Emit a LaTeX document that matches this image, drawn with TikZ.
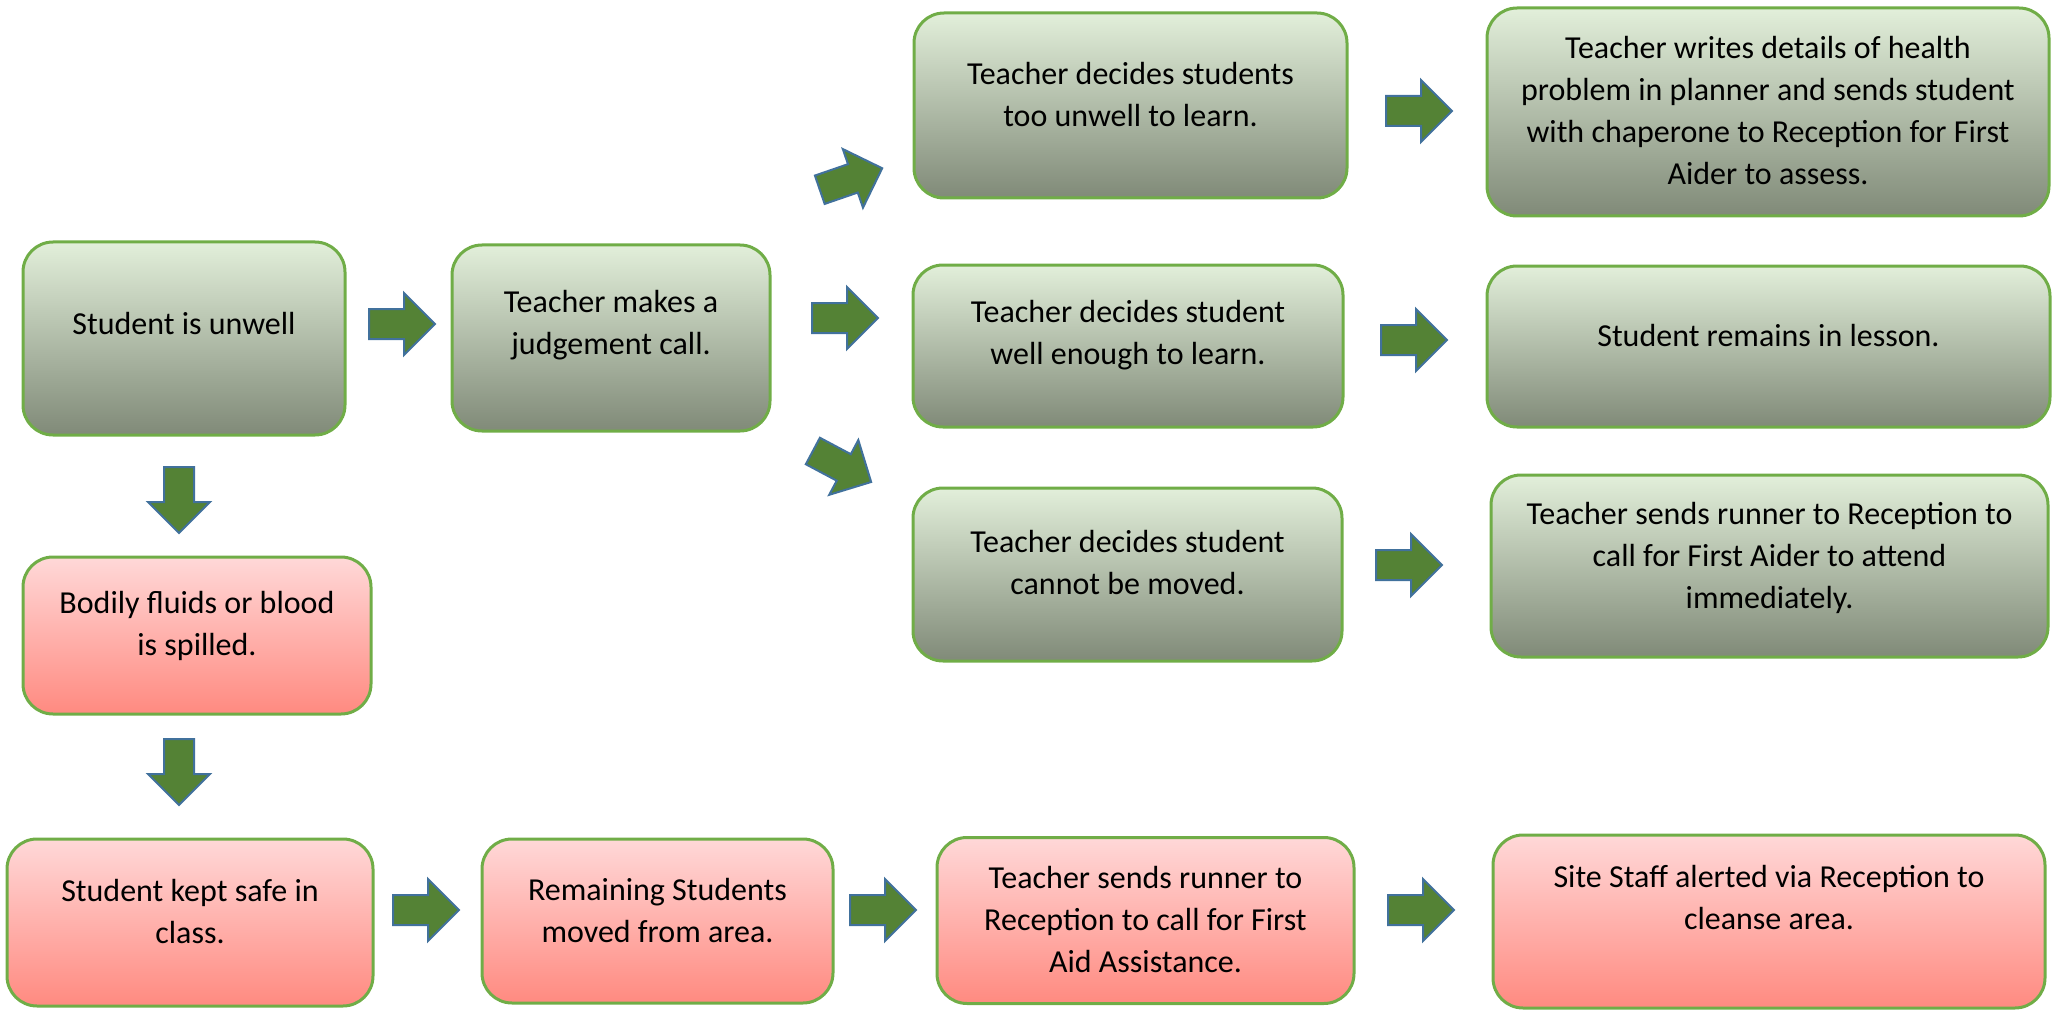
\documentclass[tikz,border=0pt]{standalone}
\usepackage{fontspec}
\setmainfont{Carlito}
\definecolor{gtop}{RGB}{226,239,218}
\definecolor{gbot}{RGB}{128,138,120}
\definecolor{rtop}{RGB}{255,216,216}
\definecolor{rbot}{RGB}{255,138,128}
\definecolor{bord}{RGB}{112,173,71}
\definecolor{afill}{RGB}{84,130,53}
\definecolor{aline}{RGB}{65,113,156}
\begin{document}
\begin{tikzpicture}[x=0.5pt,y=-0.5pt,
  box/.style={draw=bord,line width=1.5pt,rounded corners=15pt,inner sep=0pt},
  gbox/.style={box,top color=gtop,bottom color=gbot},
  rbox/.style={box,top color=rtop,bottom color=rbot},
  sz/.style 2 args={minimum width=#1*0.5pt,minimum height=#2*0.5pt},
  txt/.style={font=\fontsize{16}{21}\selectfont,align=center,text=black,inner sep=0pt},
  arrowstyle/.style={fill=afill,draw=aline,line width=1pt,line join=miter},
  barrow/.pic={\filldraw[arrowstyle] (-33,-15)--(2,-15)--(2,-31)--(33,0)--(2,31)--(2,15)--(-33,15)--cycle;}]
\useasboundingbox (0,0) rectangle (2053,1011);

% green boxes
\node[gbox,sz={322}{193},label={[txt,name=t1,yshift=7.5pt]center:{Student is unwell}}] (b1) at (184,338.5) {};
\node[gbox,sz={318}{186},label={[txt,name=t2,yshift=6.5pt]center:{Teacher makes a\\judgement call.}}] (b2) at (611,338) {};
\node[gbox,sz={433}{185},label={[txt,name=t3,yshift=5.5pt]center:{Teacher decides students\\too unwell to learn.}}] (c1) at (1130.5,105.5) {};
\node[gbox,sz={430}{162},label={[txt,name=t4,yshift=5.5pt]center:{Teacher decides student\\well enough to learn.}}] (c2) at (1128,346) {};
\node[gbox,sz={429}{173},label={[txt,name=t5,yshift=6pt]center:{Teacher decides student\\cannot be moved.}}] (c3) at (1127.5,574.5) {};
\node[gbox,sz={562}{208},label={[txt,name=t6,yshift=0.5pt]center:{Teacher writes details of health\\problem in planner and sends student\\with chaperone to Reception for First\\Aider to assess.}}] (d1) at (1768,112) {};
\node[gbox,sz={563}{161},label={[txt,name=t7,yshift=5.5pt]center:{Student remains in lesson.}}] (d2) at (1768.5,346.5) {};
\node[gbox,sz={557}{182},label={[txt,name=t8,yshift=4pt]center:{Teacher sends runner to Reception to\\call for First Aider to attend\\immediately.}}] (d3) at (1769.5,566) {};

% red boxes
\node[rbox,sz={348}{157},label={[txt,name=t9,yshift=5pt]center:{Bodily fluids or blood\\is spilled.}}] (r1) at (197,635.5) {};
\node[rbox,sz={366}{167},label={[txt,name=t10,yshift=5.5pt]center:{Student kept safe in\\class.}}] (r2) at (190,922.5) {};
\node[rbox,sz={351}{164},label={[txt,name=t11,yshift=5pt]center:{Remaining Students\\moved from area.}}] (r3) at (657.5,921) {};
\node[rbox,sz={417}{166},label={[txt,name=t12,yshift=0.5pt]center:{Teacher sends runner to\\Reception to call for First\\Aid Assistance.}}] (r4) at (1145.5,920.5) {};
\node[rbox,sz={552}{173},label={[txt,name=t13,yshift=12pt]center:{Site Staff alerted via Reception to\\cleanse area.}}] (r5) at (1769,921.5) {};

% block arrows
\pic at (402,324) {barrow};
\pic[rotate=19] at (851,179) {barrow};
\pic at (845,318) {barrow};
\pic[rotate=-28] at (842,466.5) {barrow};
\pic at (1419,111) {barrow};
\pic at (1414,340) {barrow};
\pic at (1409,565) {barrow};
\pic[rotate=-90] at (179,500) {barrow};
\pic[rotate=-90] at (179,772) {barrow};
\pic at (426,910) {barrow};
\pic at (883,910) {barrow};
\pic at (1421,910) {barrow};
\end{tikzpicture}
\end{document}
